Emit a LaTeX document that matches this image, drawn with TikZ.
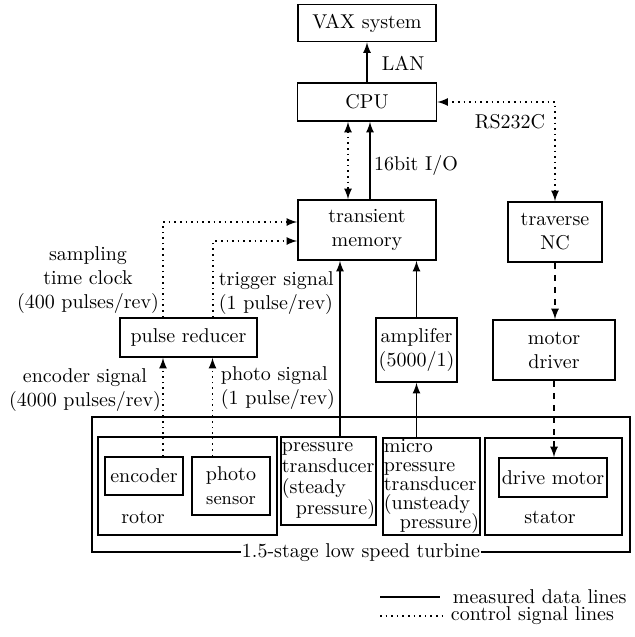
\documentclass[tikz,border=0pt]{standalone}
\usepackage{tikz}
\usetikzlibrary{positioning}
\usetikzlibrary{shapes.geometric, arrows}
\usetikzlibrary{calc}
\tikzstyle{dataline} = [thick,->,>=latex]
\tikzstyle{ctrlline} = [thick,dotted,->,>=latex]

\begin{document}
\begin{tikzpicture}[
    x = 0.5pt, y = -0.5pt,
    every node/.style = {draw, rectangle, align = center, inner sep = 1pt, line width = 0.9pt},
    textbox/.style = {align = left, inner sep = 0.5pt}
  ]
  \useasboundingbox (0,0) rectangle (635,637);

  % upper blocks
  \node[minimum width = 69pt, minimum height = 18.5pt] (VAX) at (367,23) {VAX system};
  \node[minimum width = 69.5pt, minimum height = 19pt] (CPU) at (367,102) {CPU};
  \node[minimum width = 69pt, minimum height = 30pt] (Memory) at (367,230) {transient\\memory};
  \node[minimum width = 47pt, minimum height = 30pt] (TraverseNC) at (555,232) {traverse\\NC};
  \node[minimum width = 61pt, minimum height = 30pt] (MotorDriver) at (554,350) {motor\\driver};
  \node[minimum width = 40.5pt, minimum height = 32pt] (Amplifier) at (416.5,350) {amplifer\\(5000/1)};
  \node[minimum width = 68.5pt, minimum height = 19.5pt] (PulseReducer) at (188.5,337.5) {pulse reducer};

  % turbine
  \node[minimum width = 269pt, minimum height = 67.5pt] (Turbine) at (361,484.5) {};
  \node[minimum width = 89.5pt, minimum height = 49pt] (Rotor) at (187.5,486) {};
  \node[minimum width = 39pt, minimum height = 19pt] (Encoder) at (144,476) {encoder};
  \node[minimum width = 39pt, minimum height = 29pt] (PhotoSensor) at (231,486) {photo\\{\small sensor}};
  \node[textbox, minimum width = 46.5pt, minimum height = 44pt] (PressTrans) at (328.5,481)
    {pressure\\[-1.5pt]transducer\\[-1.5pt](steady\\[-1.5pt]\hspace*{7pt}pressure)};
  \node[textbox, minimum width = 48.5pt, minimum height = 48.5pt] (MicroTrans) at (431.5,486.5)
    {micro\\[-2.5pt]pressure\\[-2.5pt]transducer\\[-2.5pt](unsteady\\[-2.5pt]\hspace*{8pt}pressure)};
  \node[minimum width = 68.5pt, minimum height = 48.5pt] (Stator) at (553.5,486.5) {};
  \node[minimum width = 54pt, minimum height = 19.5pt] (DriveMotor) at (553,477.5) {drive motor};

  % connectors
  \coordinate (ClockIn) at ([xshift=-12.75pt]PulseReducer.north);
  \coordinate (TrigIn) at ([xshift=12.25pt]PulseReducer.north);
  \coordinate (EncIn) at ([xshift=-12.75pt]PulseReducer.south);
  \coordinate (PhotoIn) at ([xshift=12pt]PulseReducer.south);
  \coordinate (ClockOut) at ([yshift=4pt]Memory.west);
  \coordinate (TrigOut) at ([yshift=-5.5pt]Memory.west);
  \coordinate (PresIn) at ([xshift=-13.5pt]Memory.south);

  \draw[dataline] (CPU) -- (VAX);
  \draw[dataline] ([xshift=1.5pt]Memory.north) -- ([xshift=1.5pt]CPU.south);
  \draw[ctrlline, <->] ([xshift=-9.5pt]CPU.south) -- ([xshift=-9.5pt]Memory.north);
  \draw[ctrlline, <->] (CPU.east) -| (TraverseNC.north);
  \draw[ctrlline, dashed] (TraverseNC.south) -- (TraverseNC.south |- MotorDriver.north);
  \draw[ctrlline, dashed] (MotorDriver.south) -- (MotorDriver.south |- DriveMotor.north);
  \draw[ctrlline] (ClockIn) |- (ClockOut);
  \draw[ctrlline] (TrigIn) |- (TrigOut);
  \draw[ctrlline] (EncIn |- Encoder.north) -- (EncIn);
  \draw[ctrlline] (PhotoIn |- PhotoSensor.north) -- (PhotoIn);
  \draw[dataline] (PresIn |- PressTrans.north) -- (PresIn);
  \draw[dataline] (Amplifier.south |- MicroTrans.north) -- (Amplifier.south);
  \draw[dataline] (Amplifier.north) -- (Amplifier.north |- Memory.south);

  % Labels
  \begin{scope}[nodes = {draw = none}]
    \node (LAN) at (403,63) {LAN};
    \node (IO) at (416,165) {16bit I/O};
    \node (RS) at (510,122) {RS232C};
    \node (Sampling) at (88,280) {sampling\\time clock\\(400 pulses/rev)};
    \node[anchor = west, align = left] (Trigger) at (216,293) {trigger signal\\(1 pulse/rev)};
    \node (EncSignal) at (85,390) {encoder signal\\(4000 pulses/rev)};
    \node[anchor = west, align = left] (PhotoSignal) at (218,388) {photo signal\\(1 pulse/rev)};
    \node (RotorLabel) at (143,517) {rotor};
    \node (StatorLabel) at (550,517) {stator};
    \node[fill = white, inner sep = 0.5pt] (TurbineLabel) at (Turbine.south) {1.5-stage low speed turbine};
    \node[anchor = west] (DataText) at (450,597) {measured data lines};
    \node[anchor = west] (CtrlText) at (448,616) {control signal lines};
  \end{scope}

  % legend
  \coordinate (DataA) at (380,597);
  \coordinate (DataB) at (440,597);
  \coordinate (CtrlA) at (380,616);
  \coordinate (CtrlB) at (442,616);
  \draw[thick] (DataA) -- (DataB);
  \draw[thick, dotted] (CtrlA) -- (CtrlB);
\end{tikzpicture}
\end{document}
